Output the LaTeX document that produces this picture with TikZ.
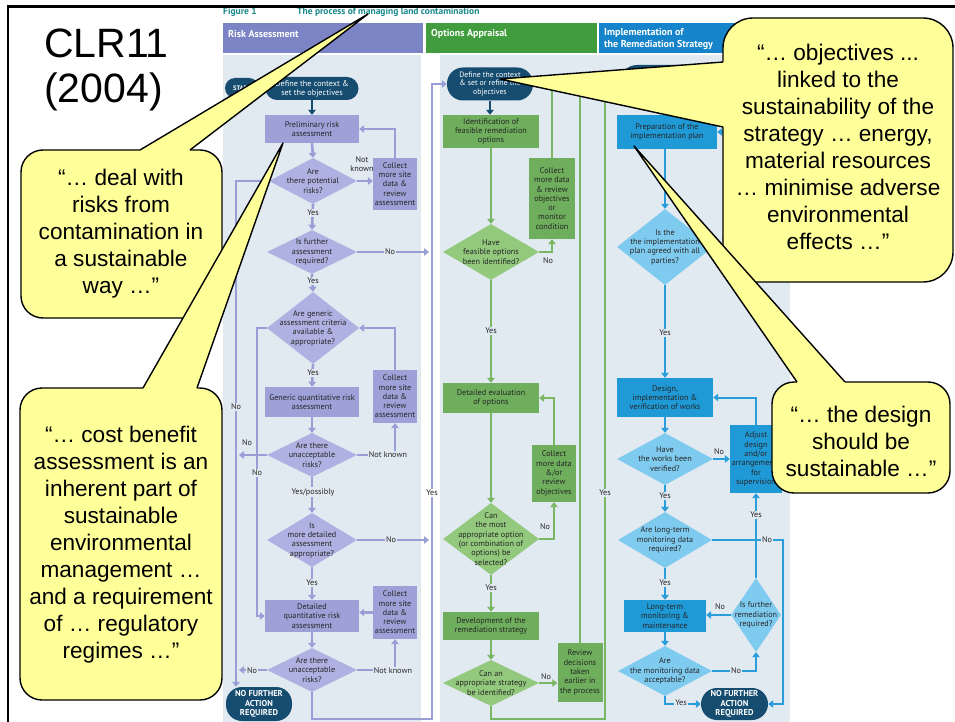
\documentclass[tikz,border=0pt]{standalone}
\usepackage{fontspec}
\setmainfont{Liberation Sans}
\newfontfamily\flf{PT Sans}
\usetikzlibrary{arrows.meta,shapes.geometric}
\definecolor{bgc}{HTML}{E1E9F1}
\definecolor{navy}{HTML}{154C70}
\definecolor{rhead}{HTML}{7C84C6}
\definecolor{rbox}{HTML}{9DA1D8}
\definecolor{rdia}{HTML}{AEB1E1}
\definecolor{rline}{HTML}{9A9ED6}
\definecolor{ohead}{HTML}{409C3C}
\definecolor{obox}{HTML}{6EAE5C}
\definecolor{odia}{HTML}{92C97D}
\definecolor{oline}{HTML}{7AB763}
\definecolor{ihead}{HTML}{1684CB}
\definecolor{ibox}{HTML}{1F9AD7}
\definecolor{idia}{HTML}{7FCBF0}
\definecolor{iline}{HTML}{2A9EDB}
\definecolor{cy}{HTML}{FFFF99}
\definecolor{ttl}{HTML}{1A8A8A}
\definecolor{txt}{HTML}{262626}
\newcommand{\mydia}[6]{%
 \node[diamond, fill=#1, draw=none, inner sep=0pt, minimum width=#4, minimum height=#5] (#2) at (#3) {};
 \node[fl] (#2t) at (#2) {#6};}
\tikzset{
 fl/.style={font=\flf\fontsize{8.2}{9.3}\selectfont, text=txt, align=center, inner sep=0pt},
 rb/.style={fl, fill=rbox},
 ob/.style={fl, fill=obox},
 ib/.style={fl, fill=ibox},
 pill/.style={fill=navy, text=white, align=center, inner sep=0pt, font=\flf\fontsize{8.2}{9}\selectfont},
 nfa/.style={pill, font=\flf\bfseries\fontsize{8.5}{9.5}\selectfont},
 hd/.style={font=\flf\bfseries\fontsize{10}{12}\selectfont, text=white, inner sep=0pt, align=left, anchor=west},
 arr/.style={-{Triangle[length=5pt,width=7.5pt]}},
 rl/.style={draw=rline, line width=2.6pt},
 ol/.style={draw=oline, line width=2.4pt},
 il/.style={draw=iline, line width=2pt},
 nl/.style={draw=navy, line width=1.5pt},
 lab/.style={fl, fill=bgc, inner sep=1pt},
 cbody/.style={fill=cy, draw=black, line width=1.4pt},
 cedge/.style={draw=black, line width=1.4pt, line join=round},
 ctext/.style={font=\fontsize{22.6}{27}\selectfont, align=center, text=black, inner sep=0pt},
}
\begin{document}
\begin{tikzpicture}[x=1pt,y=-1pt]
\useasboundingbox (0,0) rectangle (955,722);
\fill[white] (0,0) rectangle (955,722);
% backgrounds and headers
\fill[bgc] (223,55) rectangle (421,722);
\fill[bgc] (440,55) rectangle (790,722);
\fill[rhead] (223,23) rectangle (423,53);
\fill[ohead] (426,23) rectangle (597,53);
\fill[ihead] (599,23) rectangle (790,53);
\node[hd] (hR) at (228,34) {Risk Assessment};
\node[hd] (hO) at (431,34) {Options Appraisal};
\node[hd] (hI) at (604,39) {Implementation of\\the Remediation Strategy};
\node[anchor=west, inner sep=0pt, text=ttl, font=\flf\bfseries\fontsize{9.5}{11}\selectfont] (fig) at (223,12) {Figure 1};
\node[anchor=west, inner sep=0pt, text=ttl, font=\flf\bfseries\fontsize{9.5}{11}\selectfont] (title) at (297,12) {The process of managing land contamination};
% coordinates
\coordinate (lv) at (236,0); \coordinate (lva) at (239,0);
\coordinate (rv) at (432,0); \coordinate (rva) at (429,0);
\coordinate (bot) at (0,719); \coordinate (cx) at (395,0);
\coordinate (lv2) at (257,0); \coordinate (gv) at (605,0);
\coordinate (ivn) at (735,0); \coordinate (ivr) at (783,0);
% ---------- Risk assessment column
\node[pill, minimum width=34pt, minimum height=20pt, rounded corners=10pt, font=\flf\bfseries\fontsize{6.5}{7}\selectfont] (start) at (242,88) {START};
\node[pill, minimum width=93pt, minimum height=23pt, rounded corners=11.5pt] (defR) at (312,88.5) {Define the context \&\\set the objectives};
\node[rb, minimum width=94pt, minimum height=28pt] (prelim) at (312,129) {Preliminary risk\\assessment};
\mydia{rdia}{d1}{313,181}{88pt}{46pt}{Are\\there potential\\risks?}
\node[rb, minimum width=44pt, minimum height=52pt] (coll1) at (395,184) {Collect\\more site\\data \&\\review\\assessment};
\mydia{rdia}{d2}{312,252}{90pt}{44pt}{Is further\\assessment\\required?}
\mydia{rdia}{d3}{313,328}{92pt}{72pt}{Are generic\\assessment criteria\\available \&\\appropriate?}
\node[rb, minimum width=44pt, minimum height=53pt] (coll2) at (395,396.5) {Collect\\more site\\data \&\\review\\assessment};
\node[rb, minimum width=94pt, minimum height=30pt] (gqra) at (312,402) {Generic quantitative risk\\assessment};
\mydia{rdia}{d4}{312,455}{90pt}{44pt}{Are there\\unacceptable\\risks?}
\mydia{rdia}{d5}{312,540}{90pt}{54pt}{Is\\more detailed\\assessment\\appropriate?}
\node[rb, minimum width=94pt, minimum height=32pt] (dqra) at (312,616) {Detailed\\quantitative risk\\assessment};
\node[rb, minimum width=44pt, minimum height=53pt] (coll3) at (395,612.5) {Collect\\more site\\data \&\\review\\assessment};
\mydia{rdia}{d6}{312,670}{90pt}{44pt}{Are there\\unacceptable\\risks?}
\node[nfa, minimum width=66pt, minimum height=34pt, rounded corners=16pt] (nfaR) at (259,704) {NO FURTHER\\ACTION\\REQUIRED};
% ---------- Options appraisal column
\node[pill, minimum width=86pt, minimum height=33pt, rounded corners=16pt, font=\flf\fontsize{7.8}{8.6}\selectfont] (defO) at (490,84) {Define the context\\\& set or refine the\\objectives};
\node[ob, minimum width=96pt, minimum height=33pt] (ident) at (491,131.5) {Identification of\\feasible remediation\\options};
\mydia{odia}{dO1}{491,252}{96pt}{56pt}{Have\\feasible options\\been identified?}
\node[ob, minimum width=46pt, minimum height=81pt] (collO1) at (552,198.5) {Collect\\more data\\\& review\\objectives\\or\\monitor\\condition};
\node[ob, minimum width=96pt, minimum height=30pt] (dtl) at (491,398) {Detailed evaluation\\of options};
\node[ob, minimum width=44pt, minimum height=57pt] (collO2) at (554,473.5) {Collect\\more data\\\&/or\\review\\objectives};
\mydia{odia}{dO2}{491,539}{96pt}{72pt}{Can\\the most\\appropriate option\\(or combination of\\options) be\\selected?}
\node[ob, minimum width=96pt, minimum height=28pt] (devO) at (491,626) {Development of the\\remediation strategy};
\mydia{odia}{dO3}{491,683}{96pt}{46pt}{Can an\\appropriate strategy\\be identified?}
\node[ob, minimum width=45pt, minimum height=59pt] (revO) at (580,672.5) {Review\\decisions\\taken\\earlier in\\the process};
% ---------- Implementation column
\node[pill, minimum width=80pt, minimum height=34pt, rounded corners=17pt] (defI) at (660,82) {};
\node[ib, minimum width=100pt, minimum height=34pt] (prep) at (667,132) {Preparation of the\\implementation plan};
\mydia{idia}{dI1}{665,247}{96pt}{76pt}{Is the\\the implementation\\plan agreed with all\\parties?}
\node[ib, minimum width=96pt, minimum height=39pt] (design) at (665,397.5) {Design,\\implementation \&\\verification of works};
\mydia{idia}{dI2}{665,459}{96pt}{52pt}{Have\\the works been\\verified?}
\node[ib, minimum width=52pt, minimum height=68pt] (adj) at (756,459) {Adjust\\design\\and/or\\arrangements\\for\\supervision};
\mydia{idia}{dI3}{665,540}{94pt}{56pt}{Are long-term\\monitoring data\\required?}
\node[ib, minimum width=82pt, minimum height=32pt] (ltm) at (665,616) {Long-term\\monitoring \&\\maintenance};
\mydia{idia}{dI4}{756,615}{50pt}{74pt}{Is further\\remediation\\required?}
\mydia{idia}{dI5}{665,671}{94pt}{50pt}{Are\\the monitoring data\\acceptable?}
\node[nfa, minimum width=67pt, minimum height=32pt, rounded corners=16pt] (nfaI) at (734.5,704) {NO FURTHER\\ACTION\\REQUIRED};
% ---------- Risk connectors
\draw[nl,arr] (defR.south) -- (prelim.north);
\draw[rl,arr] (prelim.south) -- (d1.north);
\draw[rl,arr] (d1.east) -- (d1.east -| coll1.west);
\draw[rl,arr] (coll1.north) |- (prelim.east);
\draw[rl,arr] (d1.south) -- (d2.north);
\draw[rl,arr] (d2.east) -- (d2.east -| rva);
\draw[rl,arr] (d2.south) -- (d3.north);
\draw[rl,arr] (coll2.north) |- (d3.east);
\draw[rl,arr] (d3.west) -- (d3.west -| lv2) |- (dqra.west);
\draw[rl,arr] (d1.west) -- (d1.west -| lv) -- (lv |- nfaR.north);
\draw[rl,arr] (d3.south) -- (gqra.north);
\draw[rl,arr] (gqra.south) -- (d4.north);
\draw[rl,arr] (d4.east) -- (d4.east -| cx) -- (coll2.south);
\draw[rl,arr] (d4.west) -- (d4.west -| lva);
\draw[rl,arr] (d4.south) -- (d5.north);
\draw[rl,arr] (d5.east) -- (d5.east -| rva);
\draw[rl,arr] (d5.south) -- (dqra.north);
\draw[rl,arr] (coll3.west) -- (coll3.west -| dqra.east);
\draw[rl,arr] (dqra.south) -- (d6.north);
\draw[rl,arr] (d6.east) -- (d6.east -| cx) -- (coll3.south);
\draw[rl,arr] (d6.west) -- (d6.west -| lva);
\draw[rl,arr] (d6.south) -- (d6.south |- bot) -- (rv |- bot) -- (rv |- defO.west) -- (defO.west);
\node[fl] (lr1) at (362,164) {Not\\known};
\node[lab] (lr2) at (313,213) {Yes};
\node[lab] (lr3) at (390,252) {No};
\node[lab] (lr4) at (313,281) {Yes};
\node[lab] (lr5) at (313,373) {Yes};
\node[lab] (lr6) at (236,407) {No};
\node[lab] (lr7) at (257,473) {No};
\node[fl] (lr8) at (247,443) {No};
\node[lab] (lr9) at (388,455) {Not known};
\node[lab] (lr10) at (313,492) {Yes/possibly};
\node[lab] (lr11) at (391,540) {No};
\node[lab] (lr12) at (312,583) {Yes};
\node[lab] (lr13) at (393,671) {Not known};
\node[lab] (lr14) at (252,671) {No};
\node[lab, fill=white] (lr15) at (432,493) {Yes};
% ---------- Options connectors
\draw[nl,arr] (defO.south) -- (defO.south |- ident.north);
\draw[ol,arr] (ident.south) -- (dO1.north);
\draw[ol,arr] (dO1.east) -| (collO1.south);
\draw[ol,arr] (collO1.north) |- (defO.east);
\draw[ol,arr] (revO.north) |- (defO.east);
\draw[ol,arr] (dO1.south) -- (dtl.north);
\draw[ol,arr] (collO2.north) |- (dtl.east);
\draw[ol,arr] (dtl.south) -- (dO2.north);
\draw[ol,arr] (dO2.east) -| (collO2.south);
\draw[ol,arr] (dO2.south) -- (devO.north);
\draw[ol,arr] (devO.south) -- (dO3.north);
\draw[ol,arr] (dO3.east) -- (dO3.east -| revO.west);
\draw[ol,arr] (dO3.south) -- (dO3.south |- bot) -- (gv |- bot) -- (gv |- defI.west) -- (defI.west);
\node[fl] (lo1) at (548,261) {No};
\node[lab] (lo2) at (491,331) {Yes};
\node[fl] (lo3) at (545,527) {No};
\node[lab] (lo4) at (491,588) {Yes};
\node[fl] (lo5) at (546,677) {No};
\node[lab] (lo6) at (605,493) {Yes};
% ---------- Implementation connectors
\draw[nl,arr] (defI.south) -- (defI.south |- prep.north);
\draw[il,arr] (dI1.north |- prep.south) -- (dI1.north);
\draw[il,arr] (dI1.east) -- (dI1.east -| ivn) |- (prep.east);
\draw[il,arr] (dI1.south) -- (design.north);
\draw[il,arr] (design.south) -- (dI2.north);
\draw[il,arr] (dI2.east) -- (dI2.east -| adj.west);
\draw[il,arr] (adj.north) |- (design.east);
\draw[il,arr] (dI2.south) -- (dI3.north);
\draw[il,arr] (dI3.east) -- (dI3.east -| ivr) -- (ivr |- nfaI.east) -- (nfaI.east);
\draw[il,arr] (dI3.south) -- (ltm.north);
\draw[il,arr] (dI4.west) -- (dI4.west -| ltm.east);
\draw[il,arr] (dI4.north) -- (adj.south);
\draw[il,arr] (ltm.south) -- (dI5.north);
\draw[il,arr] (dI5.east) -| (dI4.south);
\draw[il,arr] (dI5.south) |- (nfaI.west);
\node[lab] (li1) at (727,240) {No};
\node[lab] (li2) at (665,333) {Yes};
\node[fl] (li3) at (719,452) {No};
\node[lab] (li4) at (665,496) {Yes};
\node[lab] (li5) at (767,540) {No};
\node[lab] (li6) at (665,583) {Yes};
\node[fl] (li7) at (720,607) {No};
\node[lab] (li8) at (756,515) {Yes};
\node[lab] (li9) at (736,671) {No};
\node[lab] (li10) at (681,703) {Yes};
% ---------- Callouts
% C1
\draw[cbody, rounded corners=22pt] (21,150) rectangle (222,318);
\fill[cy] (140,150) -- (368,14) -- (190,150) -- (190,157) -- (140,157) -- cycle;
\draw[cedge] (140,150) -- (368,14) -- (190,150);
\node[ctext] (c1t) at (121,234) {“… deal with\\risks from\\contamination in\\a sustainable\\way …”};
% C2 (its pointer lies over C1)
\draw[cbody, rounded corners=22pt] (20,388) rectangle (222,700);
\fill[cy] (143,388) -- (283,143) -- (197,388) -- (197,395) -- (143,395) -- cycle;
\draw[cedge] (143,388) -- (283,143) -- (197,388);
\node[ctext] (c2t) at (121,545) {“… cost benefit\\assessment is an\\inherent part of\\sustainable\\environmental\\management …\\and a requirement\\of … regulatory\\regimes …”};
% C3
\draw[cbody, rounded corners=30pt] (723,18) rectangle (953,282);
\fill[cy] (723,62) -- (500,79) -- (723,127) -- (730,127) -- (730,62) -- cycle;
\draw[cedge] (723,62) -- (500,79) -- (723,127);
\node[ctext] (c3t) at (838,147) {“… objectives ...\\linked to the\\sustainability of the\\strategy … energy,\\material resources\\… minimise adverse\\environmental\\effects …”};
% C4
\draw[cbody, rounded corners=22pt] (772,382) rectangle (950,493);
\fill[cy] (797,382) -- (634,146) -- (845,382) -- (845,389) -- (797,389) -- cycle;
\draw[cedge] (797,382) -- (634,146) -- (845,382);
\node[ctext] (c4t) at (861,441) {“… the design\\should be\\sustainable …”};
% title
\node[anchor=west, align=left, inner sep=0pt, font=\fontsize{41}{45}\selectfont] (clr) at (44,70) {CLR11\\(2004)};
% slide frame
\draw[line width=3pt] (6.5,7) -- (955,7);
\draw[line width=2.7pt] (8,5.5) -- (8,722);
\end{tikzpicture}
\end{document}
